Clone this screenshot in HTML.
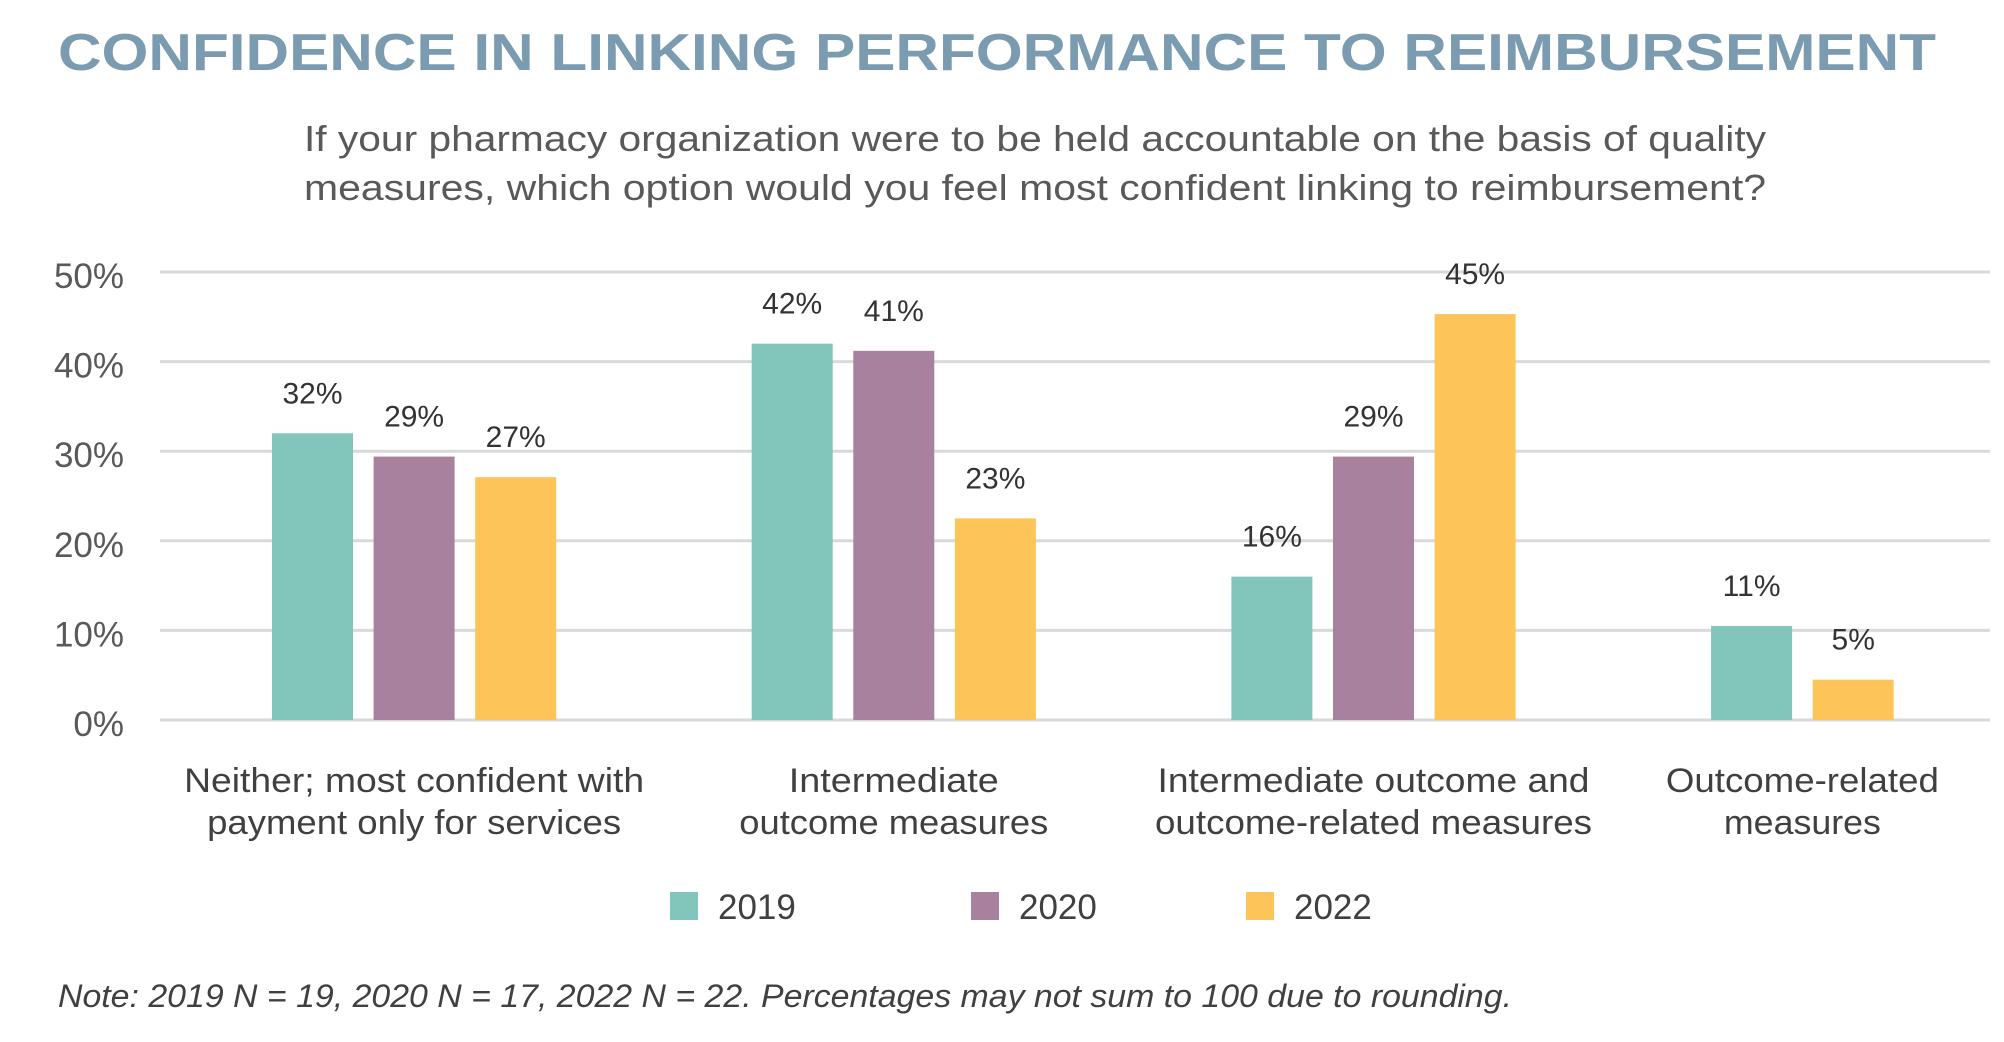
<!DOCTYPE html>
<html><head><meta charset="utf-8"><style>
html,body{margin:0;padding:0;background:#fff;}
svg{display:block;font-family:"Liberation Sans",sans-serif;}
</style></head><body>
<svg id="chart" width="2004" height="1042" viewBox="0 0 2004 1042" xmlns="http://www.w3.org/2000/svg">
<text x="58" y="70" font-size="52" font-weight="bold" fill="#7b9bb0" textLength="1878" lengthAdjust="spacingAndGlyphs">CONFIDENCE IN LINKING PERFORMANCE TO REIMBURSEMENT</text>
<text x="304" y="151" font-size="36" fill="#595959" textLength="1462" lengthAdjust="spacingAndGlyphs">If your pharmacy organization were to be held accountable on the basis of quality</text>
<text x="304" y="200" font-size="36" fill="#595959" textLength="1462" lengthAdjust="spacingAndGlyphs">measures, which option would you feel most confident linking to reimbursement?</text>
<g id="grid"></g><g id="bars"></g><g id="cats"></g><g id="legend"></g>
<text x="58" y="1007" font-size="32" font-style="italic" fill="#404040" textLength="1454" lengthAdjust="spacingAndGlyphs">Note: 2019 N = 19, 2020 N = 17, 2022 N = 22. Percentages may not sum to 100 due to rounding.</text>
</svg>
<script>
const categories = [["Neither; most confident with","payment only for services"],["Intermediate","outcome measures"],["Intermediate outcome and","outcome-related measures"],["Outcome-related","measures"]];
const catLineWidths = [[460,414],[210,309],[432,437],[273,157]];
const seriesNames = ["2019","2020","2022"];
const values2019 = [32, 42, 16, 10.5];
const values2020 = [29.4, 41.2, 29.4, null];
const values2022 = [27.1, 22.5, 45.3, 4.5];
const yTicks = [0,10,20,30,40,50];
const colors = ["#82c5bb","#a8819f","#fdc45a"];
const series = [values2019, values2020, values2022];
const NS = "http://www.w3.org/2000/svg";
const plotL=160, plotR=1990, y0=720, y50=272;
function y(v){return y0-(v/50)*(y0-y50);}
function mk(tag, attrs, parent, text){const e=document.createElementNS(NS,tag);for(const k in attrs)e.setAttribute(k,attrs[k]);if(text!==undefined)e.textContent=text;parent.appendChild(e);return e;}
const grid=document.getElementById('grid');
yTicks.forEach(t=>{
  const l=mk('line',{x1:plotL,x2:plotR,y1:y(t),y2:y(t),stroke:'#d9d9d9','stroke-width':3},grid);
  
  
  const tx=mk('text',{x:124,y:y(t)+16,'font-size':35,fill:'#595959','text-anchor':'end'},grid,t+'%');
  
  
});
const barsG=document.getElementById('bars'), catsG=document.getElementById('cats');
const barW=81, barStep=101.6, groupGap=195.5;
let x=272;
categories.forEach((cat,ci)=>{
  const start=x; let end=x;
  series.forEach((s,si)=>{
    const v=s[ci]; if(v===null||v===undefined) return;
    const r=mk('rect',{x:x,y:y(v),width:barW,height:y0-y(v),fill:colors[si]},barsG);
    
    
    const lb=mk('text',{x:x+barW/2,y:y(v)-30,'font-size':30,fill:'#333','text-anchor':'middle'},barsG,Math.round(v)+'%');
    
    
    end=x+barW; x+=barStep;
  });
  const cx=(start+end)/2;
  cat.forEach((line,li)=>{
    const t=mk('text',{x:cx,y:792+li*42,'font-size':34,fill:'#404040','text-anchor':'middle',textLength:catLineWidths[ci][li],lengthAdjust:'spacingAndGlyphs'},catsG,line);
    
    
  });
  x=end+groupGap;
});
const lg=document.getElementById('legend');
const lgX=[670,971,1246];
seriesNames.forEach((n,i)=>{
  const r=mk('rect',{x:lgX[i],y:892,width:28,height:28,fill:colors[i]},lg);
  
  
  const t=mk('text',{x:lgX[i]+48,y:919,'font-size':35,fill:'#404040'},lg,n);
  
  
});
</script>
</body></html>
